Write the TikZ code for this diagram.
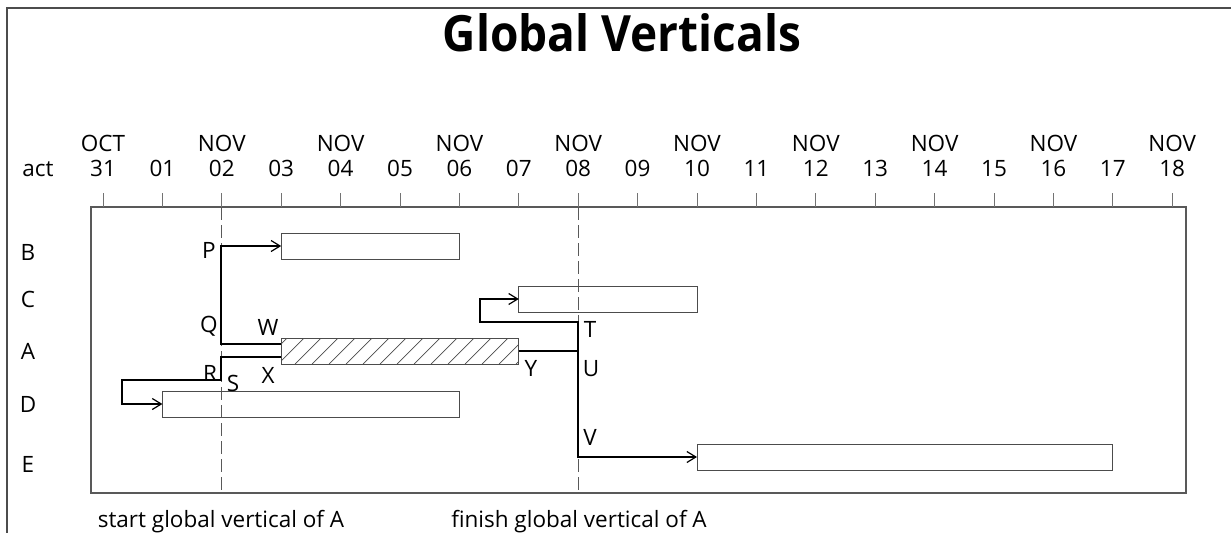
\documentclass[tikz,border=0pt]{standalone}
\usepackage{fontspec}
\setmainfont{Open Sans}
\newfontfamily\titlefont[FakeStretch=0.92]{Open Sans}
\usetikzlibrary{arrows.meta}
\def\dw{59.4}
\def\dz{103}
\tikzset{
  lbl/.style={font=\fontsize{22.5}{26}\selectfont, inner sep=0pt},
  axlbl/.style={lbl, anchor=base},
  bar/.style={draw=black!70, line width=1pt, inner sep=0pt, outer sep=0pt, minimum height=26pt, anchor=west},
  link/.style={draw=black, line width=1.2pt},
  linkarr/.style={link, -{Straight Barb[length=9pt, width=11pt, line width=1.2pt]}},
  globvert/.style={draw=black!65, line width=1pt, dash pattern=on 13pt off 5pt},
  hatch/.style={draw=black!70, line width=0.7pt}
}
\begin{document}
\begin{tikzpicture}[x=1pt, y=-1pt]
			\useasboundingbox (0,0) rectangle (1231,533);
			\draw[black!70, line width=1.2pt] (1231,8) -- (7,8) -- (7,533);
			\node[font=\titlefont\bfseries\fontsize{50}{54}\selectfont, inner sep=0pt] (title) at (622,33) {Global Verticals};

			\draw[black!65, line width=1.2pt] (91,207) rectangle (1186,493);
			\foreach \d in {0,...,18}
				\draw[black!55, line width=1pt] ({\dz+\d*\dw},193) -- ({\dz+\d*\dw},207);
			\node[axlbl] (mon0) at (\dz,151) {OCT};
			\foreach \d in {2,4,...,18}
				\node[axlbl] (mon\d) at ({\dz+\d*\dw},151) {NOV};
			\foreach \d/\t in {0/31,1/01,2/02,3/03,4/04,5/05,6/06,7/07,8/08,9/09,10/10,11/11,12/12,13/13,14/14,15/15,16/16,17/17,18/18}
				\node[axlbl] (day\d) at ({\dz+\d*\dw},176) {\t};
			\node[axlbl] (act) at (38,176) {act};

			\node[axlbl] (rowB) at (28,260) {B};
			\node[axlbl] (rowC) at (28,307) {C};
			\node[axlbl] (rowA) at (28,359) {A};
			\node[axlbl] (rowD) at (28,412) {D};
			\node[axlbl] (rowE) at (28,472) {E};

			\draw[globvert] (221,207) -- (221,493);
			\draw[globvert] (578,207) -- (578,493);

			\node[bar, minimum width={3*\dw pt}] (barB) at ({\dz+3*\dw},246) {};
			\node[bar, minimum width={3*\dw pt}] (barC) at ({\dz+7*\dw},299) {};
			\node[bar, minimum width={4*\dw pt}, fill=white] (barA) at ({\dz+3*\dw},351) {};
			\node[bar, minimum width={5*\dw pt}] (barD) at ({\dz+1*\dw},404) {};
			\node[bar, minimum width={7*\dw pt}] (barE) at ({\dz+10*\dw},457) {};
			\begin{scope}
				\clip (barA.south west) rectangle (barA.north east);
				\foreach \i in {0,...,15}
					\draw[hatch] ({281+17*\i-20},364) -- ++(30,-30);
			\end{scope}
			\draw[bar] (barA.south west) rectangle (barA.north east);

			\coordinate (q) at (221,344);
			\coordinate (p) at (221,246);
			\coordinate (x) at (221,357);
			\coordinate (r) at (122,380);
			\coordinate (u) at (578,351);
			\coordinate (t) at (480,322);
			\draw[linkarr] (barA.west |- q) -- (q) -- (p) -- (barB.west);
			\draw[linkarr] (barA.west |- x) -- (x) |- (r) |- (barD.west);
			\draw[linkarr] (barA.east) -- (u) |- (t) |- (barC.west);
			\draw[linkarr] (u) |- (barE.west);

			\node[lbl] (lP) at (209,250) {P};
			\node[lbl] (lQ) at (209,326) {Q};
			\node[lbl] (lW) at (268,327) {W};
			\node[lbl] (lR) at (210,373) {R};
			\node[lbl] (lS) at (233,383) {S};
			\node[lbl] (lX) at (268,375) {X};
			\node[lbl] (lY) at (531,368) {Y};
			\node[lbl] (lT) at (590,329) {T};
			\node[lbl] (lU) at (591,369) {U};
			\node[lbl] (lV) at (590,437) {V};

			\node[axlbl] (start) at (221,527) {start global vertical of A};
			\node[axlbl] (finish) at (579,527) {finish global vertical of A};
		\end{tikzpicture}
\end{document}
